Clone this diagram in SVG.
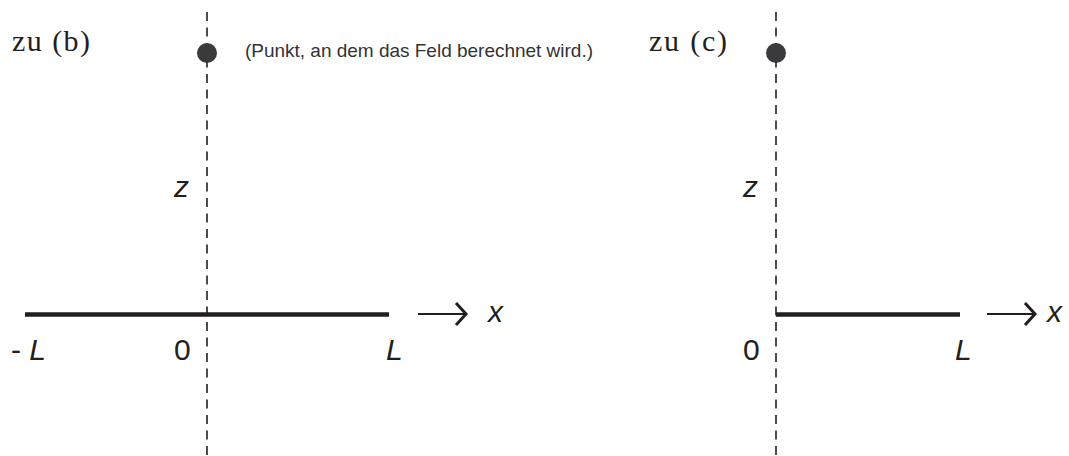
<svg xmlns="http://www.w3.org/2000/svg" width="1069" height="456" viewBox="0 0 1069 456">
<style>
.axis{stroke:#231f20;stroke-width:1.6;stroke-dasharray:9 6.5;fill:none}
.rod{stroke:#231f20;stroke-width:4.5;fill:none}
.arr{stroke:#231f20;stroke-width:2;fill:none}
.head{stroke:#231f20;stroke-width:3;fill:none;stroke-linejoin:miter}
.lbl{font-family:"Liberation Sans",Arial,sans-serif;font-size:30px;fill:#231f20}
.it{font-style:italic}
.ser{font-family:"Liberation Serif","Times New Roman",serif;font-size:30px;fill:#231f20}
.note{font-family:"Liberation Sans",Arial,sans-serif;font-size:19px;fill:#333}
.dot{fill:#3a3a3c}
</style>
<g id="connectors">
<line class="axis" x1="207" y1="12" x2="207" y2="456"/>
<line class="axis" x1="776" y1="12" x2="776" y2="456"/>
<path class="arr" d="M418 314 H465"/>
<path class="head" d="M456 303 L466 314 L456 325"/>
<path class="arr" d="M987 314 H1034"/>
<path class="head" d="M1025 303 L1035 314 L1025 325"/>
</g>
<g id="panel-b">
<text class="ser" x="12" y="51" textLength="78">zu (b)</text>
<circle class="dot" cx="207" cy="53" r="10"/>
<text class="note" x="245" y="57" textLength="348">(Punkt, an dem das Feld berechnet wird.)</text>
<text class="lbl it" x="174" y="197">z</text>
<line class="rod" x1="25" y1="314.5" x2="389" y2="314.5"/>
<text class="lbl it" x="488" y="322">x</text>
<text class="lbl" x="11" y="360">- <tspan class="it">L</tspan></text>
<text class="lbl" x="174" y="360">0</text>
<text class="lbl it" x="386" y="360">L</text>
</g>
<g id="panel-c">
<text class="ser" x="649" y="51" textLength="78">zu (c)</text>
<circle class="dot" cx="776" cy="53" r="10"/>
<text class="lbl it" x="743" y="197">z</text>
<line class="rod" x1="776" y1="314.5" x2="960" y2="314.5"/>
<text class="lbl it" x="1047" y="322">x</text>
<text class="lbl" x="743" y="360">0</text>
<text class="lbl it" x="955" y="360">L</text>
</g>
</svg>
